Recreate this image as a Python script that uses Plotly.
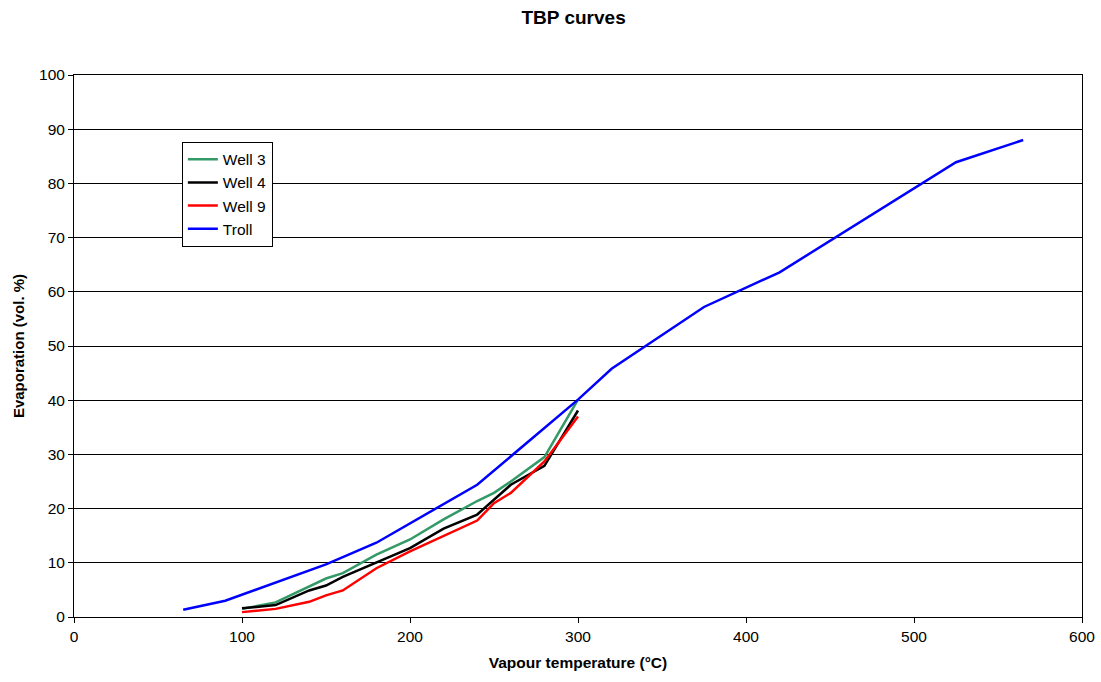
import plotly.graph_objects as go

# Vapour temperature (°C) and cumulative evaporation (vol. %)
well3_temp = [100, 120, 150, 160, 180, 200, 220, 240, 250, 260, 280, 300]
well3_evap = [1.5, 2.7, 7.1, 8.1, 11.5, 14.3, 18.0, 21.4, 22.9, 25.0, 29.5, 40.1]

well4_temp = [100, 120, 140, 150, 160, 180, 200, 220, 240, 260, 280, 300]
well4_evap = [1.6, 2.2, 4.9, 5.8, 7.4, 10.1, 12.7, 16.3, 18.9, 24.4, 27.9, 38.1]

well9_temp = [100, 120, 140, 150, 160, 180, 200, 220, 240, 250, 260, 280, 300]
well9_evap = [0.9, 1.5, 2.8, 4.0, 4.9, 9.0, 12.1, 15.0, 17.8, 21.0, 22.9, 28.7, 37.0]

troll_temp = [65, 90, 150, 180, 240, 300, 320, 375, 420, 525, 565]
troll_evap = [1.35, 3.0, 9.7, 13.7, 24.4, 40.1, 45.8, 57.2, 63.6, 83.9, 88.0]

series = [
    ("Well 3", well3_temp, well3_evap, "#339966"),
    ("Well 4", well4_temp, well4_evap, "#000000"),
    ("Well 9", well9_temp, well9_evap, "#ff0000"),
    ("Troll", troll_temp, troll_evap, "#0000ff"),
]

fig = go.Figure()
for name, xs, ys, color in series:
    fig.add_trace(go.Scatter(x=xs, y=ys, name=name, mode="lines",
                             line=dict(color=color, width=2.5)))

font = "Liberation Sans, Arial, sans-serif"
fig.update_layout(
    width=1101, height=682,
    margin=dict(l=74, r=19, t=75, b=65),
    paper_bgcolor="white", plot_bgcolor="white",
    font=dict(family=font, size=15, color="black"),
    title=dict(text="<b>TBP curves</b>", x=0.521, xanchor="center",
               y=0.985, yanchor="top", font=dict(size=19)),
    showlegend=True,
    legend=dict(x=0.107, y=0.877, xanchor="left", yanchor="top",
                bgcolor="white", bordercolor="black", borderwidth=1,
                font=dict(size=15.5), tracegroupgap=0, itemwidth=30),
    xaxis=dict(range=[0, 600], dtick=100, showgrid=False, zeroline=False,
               automargin=False,
               showline=True, linecolor="black", linewidth=1, mirror=True,
               ticks="outside", ticklen=5, tickcolor="black",
               tickfont=dict(size=15.5),
               title=dict(text="<b>Vapour temperature (°C)</b>", standoff=13,
                          font=dict(size=15.5))),
    yaxis=dict(range=[0, 100], dtick=10, showgrid=True, gridcolor="black",
               gridwidth=1, zeroline=False, automargin=False,
               showline=True, linecolor="black", linewidth=1, mirror=True,
               ticks="outside", ticklen=5, tickcolor="black",
               tickfont=dict(size=15.5),
               title=dict(text="<b>Evaporation (vol. %)</b>", standoff=10,
                          font=dict(size=15))),
)

fig.write_html("out.html")
